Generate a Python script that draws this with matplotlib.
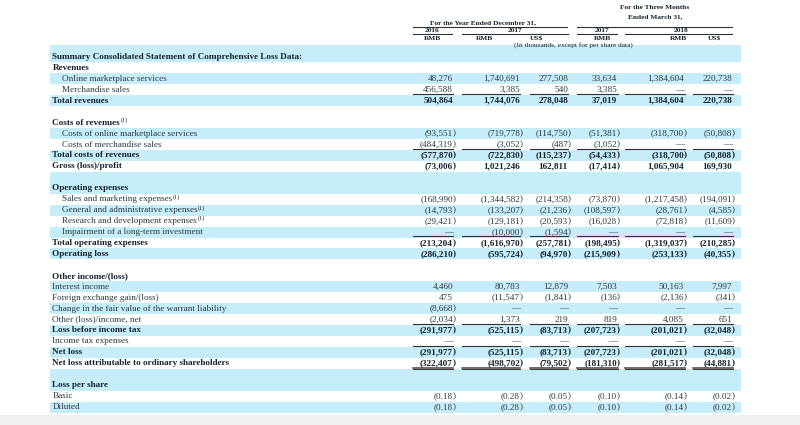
import matplotlib
matplotlib.use('Agg')
import matplotlib.pyplot as plt

# row labels and how each row is drawn
row_labels = [
    "Summary Consolidated Statement of Comprehensive Loss Data:",
    "Revenues",
    "Online marketplace services",
    "Merchandise sales",
    "Total revenues",
    "",
    "Costs of revenues",
    "Costs of online marketplace services",
    "Costs of merchandise sales",
    "Total costs of revenues",
    "Gross (loss)/profit",
    "",
    "Operating expenses",
    "Sales and marketing expenses",
    "General and administrative expenses",
    "Research and development expenses",
    "Impairment of a long-term investment",
    "Total operating expenses",
    "Operating loss",
    "",
    "Other income/(loss)",
    "Interest income",
    "Foreign exchange gain/(loss)",
    "Change in the fair value of the warrant liability",
    "Other (loss)/income, net",
    "Loss before income tax",
    "Income tax expenses",
    "Net loss",
    "Net loss attributable to ordinary shareholders",
    "",
    "Loss per share",
    "Basic",
    "Diluted",
]
# b = bold, i = indented item, f = flat item, blank = spacer
row_kinds = ["b", "b", "i", "i", "b", "blank", "b", "i", "i", "b", "b", "blank",
             "b", "i", "i", "i", "i", "b", "b", "blank",
             "b", "f", "f", "f", "f", "b", "f", "b", "b", "blank",
             "b", "f", "f"]
footnote_rows = [6, 13, 14, 15]

# value columns (in thousands); None = dash, "" = no entry
fy2016_rmb = ["", "", 48276, 456588, 504864, "", "", -93551, -484319, -577870, -73006, "",
              "", -168990, -14793, -29421, None, -213204, -286210, "",
              "", 4460, 475, -8668, -2034, -291977, None, -291977, -322407, "",
              "", -0.18, -0.18]
fy2017_rmb = ["", "", 1740691, 3385, 1744076, "", "", -719778, -3052, -722830, 1021246, "",
              "", -1344582, -133207, -129181, -10000, -1616970, -595724, "",
              "", 80783, -11547, None, 1373, -525115, None, -525115, -498702, "",
              "", -0.28, -0.28]
fy2017_usd = ["", "", 277508, 540, 278048, "", "", -114750, -487, -115237, 162811, "",
              "", -214358, -21236, -20593, -1594, -257781, -94970, "",
              "", 12879, -1841, None, 219, -83713, None, -83713, -79502, "",
              "", -0.05, -0.05]
q1_2017_rmb = ["", "", 33634, 3385, 37019, "", "", -51381, -3052, -54433, -17414, "",
               "", -73870, -108597, -16028, None, -198495, -215909, "",
               "", 7503, -136, None, 819, -207723, None, -207723, -181310, "",
               "", -0.10, -0.10]
q1_2018_rmb = ["", "", 1384604, None, 1384604, "", "", -318700, None, -318700, 1065904, "",
               "", -1217458, -28761, -72818, None, -1319037, -253133, "",
               "", 50163, -2136, None, 4085, -201021, None, -201021, -281517, "",
               "", -0.14, -0.14]
q1_2018_usd = ["", "", 220738, None, 220738, "", "", -50808, None, -50808, 169930, "",
               "", -194091, -4585, -11609, None, -210285, -40355, "",
               "", 7997, -341, None, 651, -32048, None, -32048, -44881, "",
               "", -0.02, -0.02]
columns = [fy2016_rmb, fy2017_rmb, fy2017_usd, q1_2017_rmb, q1_2018_rmb, q1_2018_usd]

years = ["2016", "2017", "2017", "2018"]
currencies = ["RMB", "RMB", "US$", "RMB", "RMB", "US$"]

# layout (pixel coordinates)
col_right = [453, 520, 568, 617, 684, 732]
col_span = [(413, 453), (462, 520), (530, 568), (577, 618), (625, 685), (693, 733)]
underline_after = [3, 8, 16, 24, 26]
double_after = [28]
y0, pitch = 57, 10.94
band_color = "#c6edfa"
ink = "#16242f"
item_ink = "#283640"
serif = "Liberation Serif"
fs = 6.6


def fmt(v):
    if v is None:
        return "\u2014", ""
    if v == "":
        return "", ""
    if isinstance(v, float):
        s = f"{abs(v):.2f}"
    else:
        s = f"{abs(v):,}"
    if v < 0:
        return "(" + s, ")"
    return s, ""


fig = plt.figure(figsize=(8, 4.25), dpi=100)
ax = fig.add_axes([0, 0, 1, 1])
ax.set_xlim(0, 800)
ax.set_ylim(425, 0)
ax.axis("off")

# alternating bands: data rows alternate, spacers take the colour of the next row
shade = [False] * len(row_labels)
k = 0
for i, kind in enumerate(row_kinds):
    if kind != "blank":
        shade[i] = (k % 2 == 0)
        k += 1
for i in range(len(row_labels) - 2, -1, -1):
    if row_kinds[i] == "blank":
        shade[i] = shade[i + 1]
for i, s in enumerate(shade):
    if s:
        yc = y0 + i * pitch
        ax.fill_between([50, 741], yc - pitch / 2, yc + pitch / 2, color=band_color, lw=0)
# the band behind the units line at the top
ax.fill_between([50, 741], 45, y0 - pitch / 2, color=band_color, lw=0)

# soft grey strip at the bottom
ax.fill_between([0, 800], 415, 425, color="#f0f0f0", lw=0)

# header
hfs = 5.3
ax.text(483, 24, "For the Year Ended December 31,", ha="center", va="baseline",
        fontsize=hfs, family=serif, fontweight="bold", color=ink)
ax.text(655, 9, "For the Three Months", ha="center", va="baseline",
        fontsize=hfs, family=serif, fontweight="bold", color=ink)
ax.text(655, 18, "Ended March 31,", ha="center", va="baseline",
        fontsize=hfs, family=serif, fontweight="bold", color=ink)
for a, b in [(413, 567), (577, 732)]:
    ax.plot([a, b], [26.5, 26.5], color="#333333", lw=0.8)
year_x = [432, 515, 602, 681]
year_span = [(413, 452), (462, 568), (577, 617), (625, 732)]
for x, yr, (a, b) in zip(year_x, years, year_span):
    ax.text(x, 32.3, yr, ha="center", va="baseline", fontsize=hfs, family=serif,
            fontweight="bold", color=ink)
    ax.plot([a, b], [34.2, 34.2], color="#333333", lw=0.8)
cur_x = [432, 484, 536, 602, 678, 714]
for x, c in zip(cur_x, currencies):
    ax.text(x, 40.3, c, ha="center", va="baseline", fontsize=hfs, family=serif,
            fontweight="bold", color=ink)
ax.text(573, 46.5, "(In thousands, except for per share data)", ha="center", va="baseline",
        fontsize=hfs, family=serif, color=ink)

fig.canvas.draw()
renderer = fig.canvas.get_renderer()

# body
for i, (label, kind) in enumerate(zip(row_labels, row_kinds)):
    if kind == "blank":
        continue
    yc = y0 + i * pitch
    bold = kind == "b"
    x = 62 if kind == "i" else 52.5
    t = ax.text(x, yc, label, ha="left", va="center", fontsize=fs, family=serif,
                fontweight="bold" if bold else "normal", color=ink if bold else item_ink)
    if i in footnote_rows:
        bb = t.get_window_extent(renderer)
        xr = ax.transData.inverted().transform((bb.x1, 0))[0]
        ax.text(xr + 0.5, yc - 2.5, "(1)", ha="left", va="center", fontsize=4.4,
                family=serif, color=ink)
    for col, xr in zip(columns, col_right):
        s, tail = fmt(col[i])
        if not s:
            continue
        w = "bold" if bold else "normal"
        c = ink if bold else item_ink
        ax.text(xr, yc, s, ha="right", va="center", fontsize=fs, family=serif,
                fontweight=w, color=c)
        if tail:
            ax.text(xr, yc, tail, ha="left", va="center", fontsize=fs, family=serif,
                    fontweight=w, color=c)

# rules under subtotals
for i in underline_after:
    yl = y0 + i * pitch + 4.2
    for a, b in col_span:
        ax.plot([a, b], [yl, yl], color="#333333", lw=0.8)
for i in double_after:
    yl = y0 + i * pitch + 4.2
    for a, b in col_span:
        ax.plot([a, b], [yl, yl], color="#444444", lw=1.1)
        ax.plot([a, b], [yl + 1.8, yl + 1.8], color="#444444", lw=0.8)

fig.savefig("out.png", dpi=100)
